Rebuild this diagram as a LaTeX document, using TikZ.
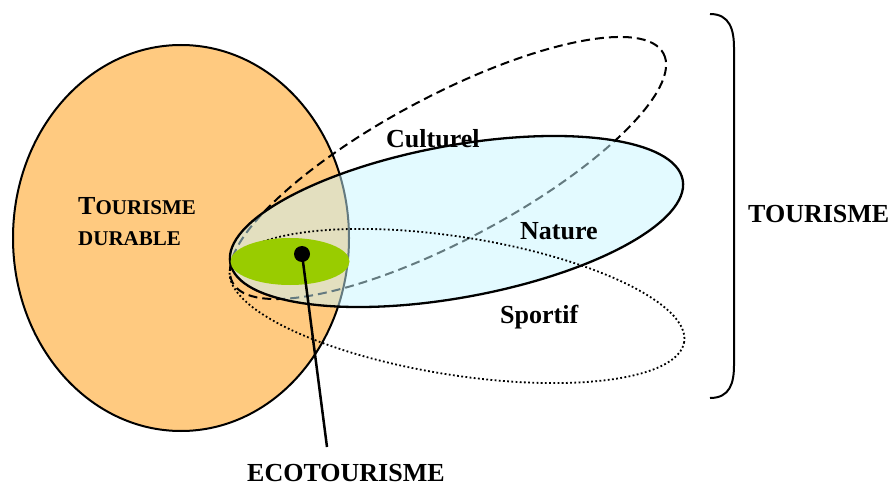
\documentclass[tikz,border=0pt]{standalone}
\usepackage{fontspec}
\setmainfont{Liberation Serif}
\usetikzlibrary{shapes,arrows}
\definecolor{durablecol}{RGB}{255,202,128}
\definecolor{naturecol}{RGB}{200,245,255}
\definecolor{ecocol}{RGB}{153,204,0}
\tikzset{%
lbl/.style={inner sep=0pt,anchor=base west,font=\bfseries\fontsize{26}{31}\selectfont},
zone/.style={line width=2pt},
}
\newcommand{\petitsc}[1]{{\fontsize{21}{31}\selectfont #1}}

\begin{document}
\begin{tikzpicture}[x=1pt,y=-1pt]
 \useasboundingbox (0,0) rectangle (896,486);
 % durable
 \draw[zone,fill=durablecol] (181,238) ellipse [x radius=168,y radius=193];
 % culturel
 \draw[zone,dash pattern=on 9pt off 5pt,rotate around={28:(448,168)}] (448,168) ellipse [x radius=244,y radius=72];
 % nature
 \draw[zone,line width=2.3pt,fill=naturecol,fill opacity=0.5,rotate around={10.4:(456.5,221.5)}] (456.5,221.5) ellipse [x radius=230,y radius=76];
 % sportif
 \draw[zone,line width=1.8pt,dash pattern=on 1.8pt off 2.4pt,rotate around={-9:(457,306)}] (457,306) ellipse [x radius=230,y radius=69];
 \fill[ecocol] (290,261.5) ellipse [x radius=59.5,y radius=23.5];
 \node[circle,fill,inner sep=0pt,minimum size=16pt] (dot) at (302,254) {};
 \coordinate (ecoend) at (327,447);
 \draw[line width=2.5pt] (dot.center)--(ecoend);
 % accolade
 \draw[line width=2pt] (710,14) .. controls (730,14) and (734,30) .. (734,48) -- (734,365) .. controls (734,383) and (730,398) .. (710,398);
 \node[lbl,align=left,anchor=north west] (durable) at (78,197) {T\petitsc{OURISME}\\\petitsc{DURABLE}};
 \node[lbl] (culturel) at (386,148) {Culturel};
 \node[lbl] (nature) at (520,240) {Nature};
 \node[lbl] (sportif) at (500,323) {Sportif};
 \node[lbl] (eco) at (247,481) {ECOTOURISME};
 \node[lbl] (tourisme) at (748,223) {TOURISME};
\end{tikzpicture}
\end{document}
